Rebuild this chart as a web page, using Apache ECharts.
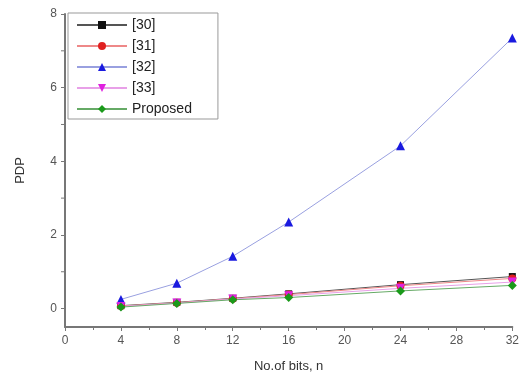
<!DOCTYPE html>
<html><head><meta charset="utf-8">
<script src="https://cdn.jsdelivr.net/npm/echarts@6/dist/echarts.min.js"></script>
<style>html,body{margin:0;padding:0;background:#fff}#c{width:522px;height:383px}</style>
</head><body><div id="c"></div>
<script>
const bits = [4, 8, 12, 16, 24, 32];
const s30 = [0.08, 0.17, 0.28, 0.40, 0.65, 0.87];
const s31 = [0.07, 0.16, 0.27, 0.38, 0.62, 0.82];
const s32 = [0.25, 0.69, 1.42, 2.35, 4.42, 7.35];
const s33 = [0.06, 0.15, 0.26, 0.35, 0.55, 0.72];
const proposed = [0.04, 0.14, 0.24, 0.30, 0.48, 0.63];
const names = ['[30]', '[31]', '[32]', '[33]', 'Proposed'];
const yLabels = [0, 2, 4, 6, 8];
const yMinor = [1, 3, 5, 7];

const chart = echarts.init(document.getElementById('c'));
function mk(name, vals, lineColor, symColor, symbol, size, rot) {
  return {
    name, type: 'line', data: bits.map((b, i) => [b, vals[i]]),
    symbol, symbolSize: size, symbolRotate: rot || 0,
    lineStyle: { color: lineColor, width: 1 },
    itemStyle: { color: symColor },
    emphasis: { disabled: true }
  };
}
const font = 'Liberation Sans, Arial, sans-serif';
chart.setOption({
  animation: false,
  grid: { left: 65, right: 8, top: 14, bottom: 56 },
  legend: {
    orient: 'vertical', left: 68, top: 13,
    itemWidth: 50, itemHeight: 10, itemGap: 7,
    padding: [5, 26, 3, 8],
    borderColor: '#999', borderWidth: 1,
    textStyle: { fontFamily: font, fontSize: 14, color: '#222' },
    data: names
  },
  xAxis: {
    type: 'value', min: 0, max: 32, interval: 4,
    name: 'No.of bits, n', nameLocation: 'middle', nameGap: 33,
    nameTextStyle: { fontFamily: font, fontSize: 13, color: '#333' },
    axisLine: { onZero: false, lineStyle: { color: '#777', width: 2 } },
    axisTick: { inside: false, length: 4, lineStyle: { color: '#777' } },
    minorTick: { show: true, splitNumber: 2, length: 3, lineStyle: { color: '#777' } },
    axisLabel: { fontFamily: font, fontSize: 12, color: '#555', margin: 8 },
    splitLine: { show: false }
  },
  yAxis: {
    type: 'value', min: -0.5, max: 8,
    name: 'PDP', nameLocation: 'middle', nameGap: 38,
    nameTextStyle: { fontFamily: font, fontSize: 13, color: '#333' },
    axisLine: { onZero: false, lineStyle: { color: '#777', width: 2 } },
    axisTick: { length: 4, lineStyle: { color: '#777' }, customValues: yLabels },
    minorTick: { show: false },
    axisLabel: { fontFamily: font, fontSize: 12, color: '#555', margin: 8, customValues: yLabels },
    splitLine: { show: false }
  },
  series: [
    mk('[30]', s30, '#555', '#111', 'rect', 7),
    mk('[31]', s31, '#e88', '#e02020', 'circle', 8),
    mk('[32]', s32, '#99a0e0', '#1a1adf', 'triangle', 9),
    mk('[33]', s33, '#e8a0e8', '#e020e0', 'triangle', 9, 180),
    mk('Proposed', proposed, '#6a6', '#1a9a1a', 'diamond', 9)
  ]
});
chart.setOption({
  graphic: yMinor.map(v => {
    const p = chart.convertToPixel({ gridIndex: 0 }, [0, v]);
    return { type: 'line', shape: { x1: p[0] - 4, y1: p[1], x2: p[0], y2: p[1] }, style: { stroke: '#777', lineWidth: 1 } };
  })
});
</script></body></html>
